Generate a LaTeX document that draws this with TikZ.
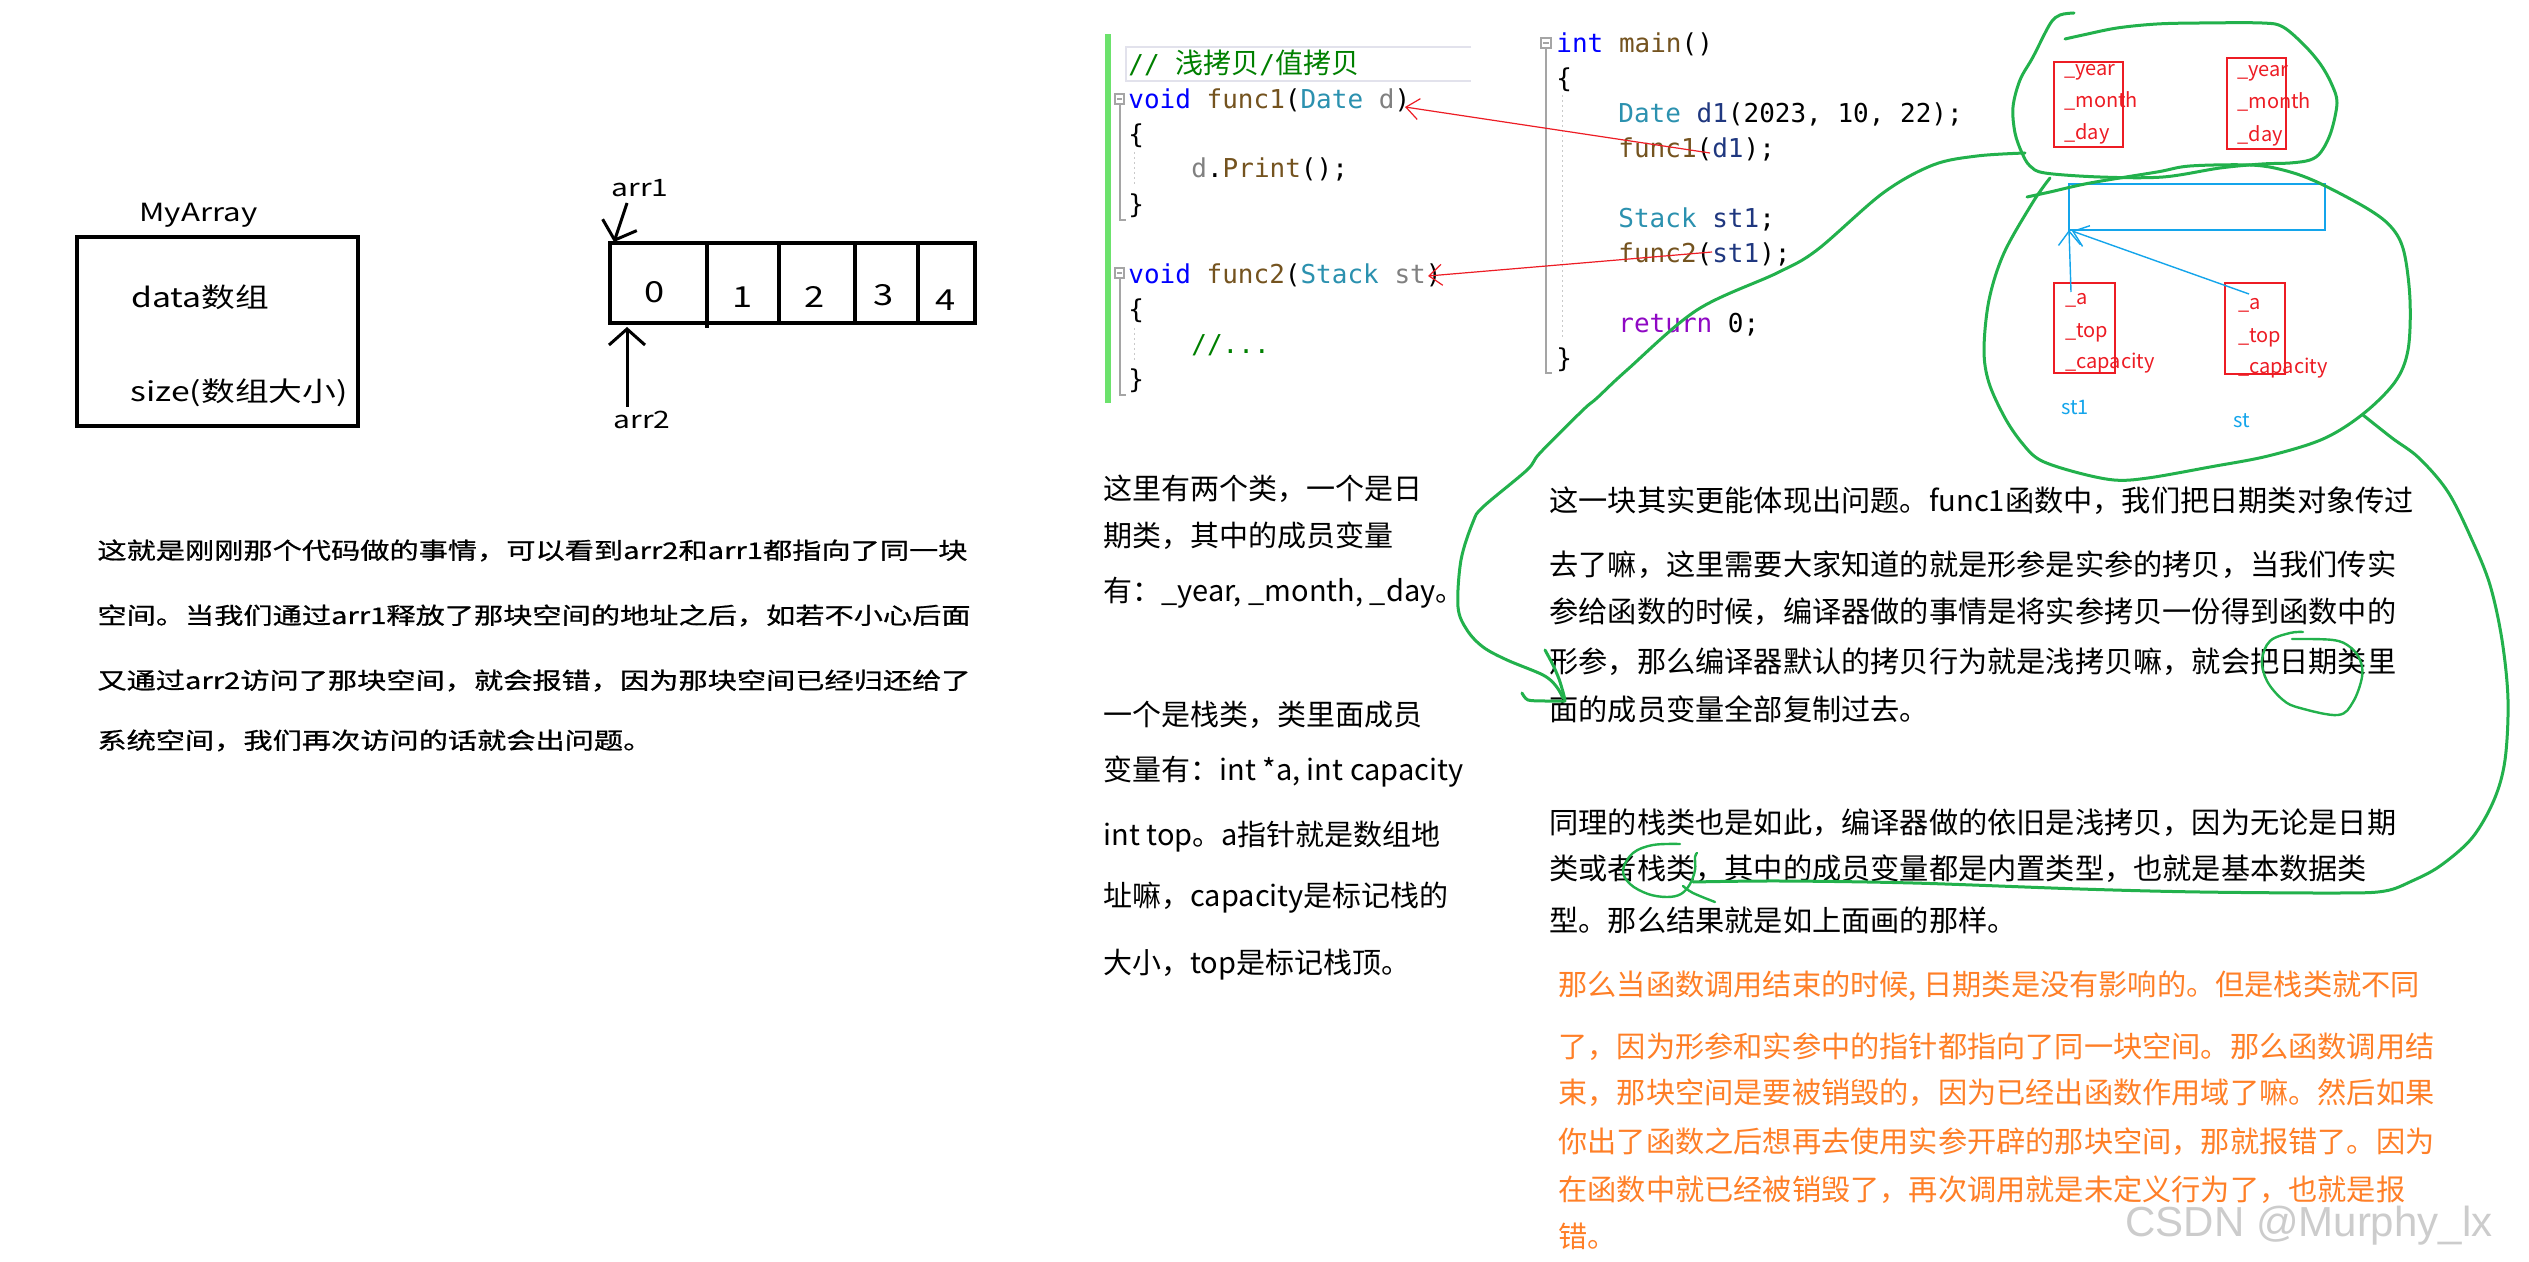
\documentclass[tikz,border=0pt]{standalone}
\usepackage{fontspec}
\setmainfont{Noto Sans CJK SC}
\newfontfamily\cjk{Noto Sans CJK SC}
\newfontfamily\paintfont[FakeStretch=1.25]{Noto Sans CJK SC}
\newfontfamily\paintpara[FakeStretch=1.27,FakeBold=0.8]{Noto Sans CJK SC}
\newfontfamily\codefont{DejaVu Sans Mono}
\newfontfamily\wmfont{Liberation Sans}
\usetikzlibrary{arrows.meta}
\definecolor{ckwc}{RGB}{0,0,255}
\definecolor{cfnc}{RGB}{116,83,31}
\definecolor{ctyc}{RGB}{43,145,175}
\definecolor{cprmc}{RGB}{128,128,128}
\definecolor{clvc}{RGB}{31,55,127}
\definecolor{cctlc}{RGB}{143,8,196}
\definecolor{ccmtc}{RGB}{0,128,0}
\definecolor{pgreen}{RGB}{34,177,76}
\definecolor{pred}{RGB}{237,28,36}
\definecolor{pblue}{RGB}{20,165,235}
\definecolor{porange}{RGB}{255,127,39}
\definecolor{barg}{RGB}{108,226,108}
\definecolor{hlc}{RGB}{226,226,236}
\definecolor{foldc}{RGB}{165,165,165}
\newcommand\ckw[1]{\textcolor{ckwc}{#1}}
\newcommand\cfn[1]{\textcolor{cfnc}{#1}}
\newcommand\cty[1]{\textcolor{ctyc}{#1}}
\newcommand\cprm[1]{\textcolor{cprmc}{#1}}
\newcommand\clv[1]{\textcolor{clvc}{#1}}
\newcommand\cctl[1]{\textcolor{cctlc}{#1}}
\newcommand\ccmt[1]{\textcolor{ccmtc}{#1}}
\tikzset{
  txt/.style={inner sep=0pt, anchor=base west},
  code/.style={txt, font=\codefont\fontsize{13}{13}\selectfont},
  leftpara/.style={txt, font=\paintpara\fontsize{11.5}{12}\selectfont},
  midpara/.style={txt, font=\fontsize{14.5}{15}\selectfont},
  rightpara/.style={txt, font=\fontsize{14.6}{15}\selectfont},
  orangepara/.style={rightpara, text=porange},
  painttxt/.style={inner sep=0pt, font=\paintfont\fontsize{13.5}{14}\selectfont},
  thickbox/.style={line width=2.3pt, draw=black},
  blackarrow/.style={line width=1.5pt, -{Straight Barb[length=8pt,width=18pt]}},
  redarrow/.style={draw=pred, line width=0.6pt, -{Straight Barb[length=6.5pt,width=10.5pt]}},
  bluearrow/.style={draw=pblue, line width=0.7pt, -{Straight Barb[length=7pt,width=11pt]}},
  redbox/.style={draw=pred, line width=0.75pt},
  memtxt/.style={txt, text=pred, font=\fontsize{10}{10}\selectfont},
  gline/.style={draw=pgreen, line width=1.5pt, line cap=round, line join=round},
  fold/.style={draw=foldc, line width=0.6pt},
  guide/.style={draw=foldc!60, line width=0.5pt, dash pattern=on 1pt off 1.5pt},
}
\begin{document}
\begin{tikzpicture}[x=0.5pt, y=-0.5pt]
\fill[white] (0,0) rectangle (2529,1262);
\useasboundingbox (0,0) rectangle (2529,1262);

% ---------- left: MyArray ----------
\node[painttxt, anchor=base west, font=\paintfont\fontsize{12.5}{13}\selectfont] (myarray) at (139,222) {MyArray};
\draw[thickbox] (77,237) rectangle (358,426);
\node[painttxt, anchor=base west] (datat) at (131,308) {data数组};
\node[painttxt, anchor=base west] (sizet) at (130,402) {size(数组大小)};

% ---------- array ----------
\draw[thickbox] (610,243) rectangle (975,323);
\draw[thickbox] (707,243) -- (707,328);
\draw[thickbox] (779,243) -- (779,323);
\draw[thickbox] (855,243) -- (855,323);
\draw[thickbox] (918,243) -- (918,323);
\node[painttxt, font=\paintfont\fontsize{14.5}{14}\selectfont] (d0) at (655,292) {0};
\node[painttxt, font=\paintfont\fontsize{14.5}{14}\selectfont] (d1) at (743,297) {1};
\node[painttxt, font=\paintfont\fontsize{14.5}{14}\selectfont] (d2) at (815,297) {2};
\node[painttxt, font=\paintfont\fontsize{14.5}{14}\selectfont] (d3) at (884,295) {3};
\node[painttxt, font=\paintfont\fontsize{14.5}{14}\selectfont] (d4) at (946,300) {4};
\node[painttxt, font=\paintfont\fontsize{12}{12}\selectfont] (arr1) at (640,188) {arr1};
\node[painttxt, font=\paintfont\fontsize{12}{12}\selectfont] (arr2) at (642,420) {arr2};
\coordinate (a1s) at (627,203);
\coordinate (a1e) at (614,242);
\coordinate (a2s) at (627,407);
\coordinate (a2e) at (627,327);
\draw[blackarrow] (a1s) -- (a1e);
\draw[blackarrow] (a2s) -- (a2e);

% ---------- left paragraph ----------
\node[leftpara] (lp1) at (97,559) {这就是刚刚那个代码做的事情，可以看到arr2和arr1都指向了同一块};
\node[leftpara] (lp2) at (97,624) {空间。当我们通过arr1释放了那块空间的地址之后，如若不小心后面};
\node[leftpara] (lp3) at (97,689) {又通过arr2访问了那块空间，就会报错，因为那块空间已经归还给了};
\node[leftpara] (lp4) at (97,749) {系统空间，我们再次访问的话就会出问题。};

% ---------- code: func1 / func2 ----------
\fill[barg] (1105,34) rectangle (1111,403);
\draw[hlc, line width=1pt] (1471,47) -- (1126,47) -- (1126,81) -- (1471,81);
\node[code] (cm) at (1128,74) {\ccmt{// {\cjk\fontsize{14}{14}\selectfont 浅拷贝}/{\cjk\fontsize{14}{14}\selectfont 值拷贝}}};
\node[code] (f1) at (1128,109) {\ckw{void} \cfn{func1}(\cty{Date} \cprm{d})};
\node[code] (f1o) at (1128,144) {\{};
\node[code] (f1b) at (1191,178) {\cprm{d}.\cfn{Print}();};
\node[code] (f1c) at (1128,214) {\}};
\node[code] (f2) at (1128,284) {\ckw{void} \cfn{func2}(\cty{Stack} \cprm{st})};
\node[code] (f2o) at (1128,319) {\{};
\node[code] (f2b) at (1191,354) {\ccmt{//...}};
\node[code] (f2c) at (1128,389) {\}};
% fold markers
\draw[fold, fill=white] (1115,94) rectangle (1124,104);
\draw[fold] (1117,99) -- (1122,99);
\draw[fold] (1120,104) -- (1120,220) -- (1126,220);
\draw[fold, fill=white] (1115,268) rectangle (1124,278);
\draw[fold] (1117,273) -- (1122,273);
\draw[fold] (1120,278) -- (1120,395) -- (1126,395);
\draw[guide] (1134,152) -- (1134,187);
\draw[guide] (1134,328) -- (1134,362);

% ---------- code: main ----------
\node[code] (m0) at (1556,53) {\ckw{int} \cfn{main}()};
\node[code] (m1) at (1556,88) {\{};
\node[code] (m2) at (1618,123) {\cty{Date} \clv{d1}(2023, 10, 22);};
\node[code] (m3) at (1618,158) {\cfn{func1}(\clv{d1});};
\node[code] (m4) at (1618,228) {\cty{Stack} \clv{st1};};
\node[code] (m5) at (1618,263) {\cfn{func2}(\clv{st1});};
\node[code] (m6) at (1618,333) {\cctl{return} 0;};
\node[code] (m7) at (1556,368) {\}};
\draw[fold, fill=white] (1541,38) rectangle (1551,48);
\draw[fold] (1543,43) -- (1549,43);
\draw[fold] (1546,48) -- (1546,373) -- (1552,373);
\draw[guide] (1562,95) -- (1562,340);

% red arrows
\coordinate (r1s) at (1710,153);
\coordinate (r1e) at (1405,107);
\coordinate (r2s) at (1712,252);
\coordinate (r2e) at (1428,276);
\draw[redarrow] (r1s) -- (r1e);
\draw[redarrow] (r2s) -- (r2e);

% ---------- memory boxes ----------
\draw[redbox] (2054,62) rectangle (2123,147);
\node[memtxt] (y1) at (2064,76) {\_year};
\node[memtxt] (mo1) at (2064,108) {\_month};
\node[memtxt] (dy1) at (2064,140) {\_day};
\draw[redbox] (2227,58) rectangle (2286,149);
\node[memtxt] (y2) at (2237,77) {\_year};
\node[memtxt] (mo2) at (2237,109) {\_month};
\node[memtxt] (dy2) at (2237,142) {\_day};

\draw[draw=pblue, line width=0.7pt] (2069,184) rectangle (2325,230);
\coordinate (bufsw) at (2069,230);
\coordinate (bufsw2) at (2072,231);

\draw[redbox] (2054,283) rectangle (2115,373);
\node[memtxt] (sa1) at (2065,305) {\_a};
\node[memtxt] (st1t) at (2065,338) {\_top};
\node[memtxt] (sc1) at (2065,369) {\_capacity};
\draw[redbox] (2225,283) rectangle (2285,374);
\node[memtxt] (sa2) at (2238,310) {\_a};
\node[memtxt] (st2t) at (2238,343) {\_top};
\node[memtxt] (sc2) at (2238,374) {\_capacity};
\node[memtxt, text=pblue] (st1lab) at (2061,415) {st1};
\node[memtxt, text=pblue] (stlab) at (2233,428) {st};
\coordinate (ap1) at (2071,292);
\coordinate (ap2) at (2249,294);
\draw[bluearrow] (ap1) -- (bufsw);
\draw[bluearrow] (ap2) -- (bufsw2);

% ---------- middle paragraph ----------
\node[midpara] (mp1) at (1103,500) {这里有两个类，一个是日};
\node[midpara] (mp2) at (1103,547) {期类，其中的成员变量};
\node[midpara] (mp3) at (1103,602) {有：\_year, \_month, \_day。};
\node[midpara] (mp4) at (1103,725) {一个是栈类，类里面成员};
\node[midpara] (mp5) at (1103,780) {变量有：int *a, int capacity};
\node[midpara] (mp6) at (1103,845) {int top。a指针就是数组地};
\node[midpara] (mp7) at (1103,906) {址嘛，capacity是标记栈的};
\node[midpara] (mp8) at (1103,973) {大小，top是标记栈顶。};

% ---------- right paragraph ----------
\node[rightpara] (rp1) at (1549,512) {这一块其实更能体现出问题。func1函数中，我们把日期类对象传过};
\node[rightpara] (rp2) at (1549,575) {去了嘛，这里需要大家知道的就是形参是实参的拷贝，当我们传实};
\node[rightpara] (rp3) at (1549,623) {参给函数的时候，编译器做的事情是将实参拷贝一份得到函数中的};
\node[rightpara] (rp4) at (1549,672) {形参，那么编译器默认的拷贝行为就是浅拷贝嘛，就会把日期类里};
\node[rightpara] (rp5) at (1549,720) {面的成员变量全部复制过去。};
\node[rightpara] (rp6) at (1549,833) {同理的栈类也是如此，编译器做的依旧是浅拷贝，因为无论是日期};
\node[rightpara] (rp7) at (1549,879) {类或者栈类，其中的成员变量都是内置类型，也就是基本数据类};
\node[rightpara] (rp8) at (1549,931) {型。那么结果就是如上面画的那样。};

% ---------- orange paragraph ----------
\node[orangepara] (op1) at (1558,995) {那么当函数调用结束的时候, 日期类是没有影响的。但是栈类就不同};
\node[orangepara] (op2) at (1558,1057) {了，因为形参和实参中的指针都指向了同一块空间。那么函数调用结};
\node[orangepara] (op3) at (1558,1103) {束，那块空间是要被销毁的，因为已经出函数作用域了嘛。然后如果};
\node[orangepara] (op4) at (1558,1152) {你出了函数之后想再去使用实参开辟的那块空间，那就报错了。因为};
\node[orangepara] (op5) at (1558,1200) {在函数中就已经被销毁了，再次调用就是未定义行为了，也就是报};
\node[orangepara] (op6) at (1558,1247) {错。};

% ---------- green hand-drawn strokes ----------
% upper blob (date objects)
\draw[gline] plot[smooth, tension=0.55] coordinates {(2074,13) (2060,15) (2050,24) (2033,57) (2020,80) (2013,107) (2015,133) (2022,153) (2030,166) (2045,173) (2100,177) (2163,177) (2220,168) (2262,164) (2290,163) (2310,160) (2321,152) (2331,132) (2337,103) (2332,85) (2321,65) (2305,46) (2283,27) (2262,23) (2200,23) (2157,24) (2117,28) (2083,35) (2065,39)};
% lower blob (stack objects)
\draw[gline] plot[smooth, tension=0.55] coordinates {(2050,178) (2033,202) (2004,253) (1989,300) (1984,350) (1989,383) (2005,418) (2022,443) (2040,460) (2075,472) (2114,480) (2148,478) (2210,467) (2268,456) (2323,439) (2363,414) (2395,382) (2408,350) (2410,300) (2404,252) (2392,228) (2368,209) (2317,182) (2283,170) (2250,165) (2190,166) (2157,172) (2090,183) (2050,192) (2027,197)};
% tail and loop round the text
\draw[gline] plot[smooth, tension=0.55] coordinates {(2363,415) (2392,438) (2419,458) (2448,492) (2472,540) (2490,585) (2502,640) (2508,700) (2505,760) (2494,800) (2472,838) (2440,866) (2412,881) (2385,891) (2340,893) (2200,892) (2080,889) (1913,883) (1780,881) (1693,882)};
% long stroke from the date blob down to the hook
\draw[gline] plot[smooth, tension=0.55] coordinates {(2025,153) (1977,156) (1933,165) (1883,193) (1817,250) (1777,273) (1697,310) (1627,370) (1597,398) (1583,410) (1540,453) (1527,470) (1483,507) (1473,522) (1461,560) (1458,607) (1467,630) (1483,647) (1507,660) (1543,675) (1556,686) (1563,698)};
\draw[gline] plot[smooth, tension=0.5] coordinates {(1545,650) (1553,665) (1559,679) (1563,692) (1565,700)};
\draw[gline] plot[smooth, tension=0.5] coordinates {(1522,693) (1528,700) (1545,701) (1565,701)};
% circle round 日期类
\draw[gline, line width=1.2pt] plot[smooth, tension=0.6] coordinates {(2303,632) (2290,633) (2270,641) (2262,660) (2267,681) (2283,700) (2300,708) (2338,715) (2353,702) (2362,677) (2360,660) (2350,647) (2333,640) (2292,639)};
% oval round 栈类
\draw[gline, line width=1.2pt] plot[smooth, tension=0.6] coordinates {(1680,844) (1653,845) (1633,853) (1623,870) (1630,884) (1648,894) (1667,897) (1681,894) (1690,884) (1695,870) (1695,857) (1697,853)};
\draw[gline, line width=1.2pt] plot[smooth, tension=0.6] coordinates {(1683,886) (1693,893) (1715,902)};

% watermark
\node[txt, font=\wmfont\fontsize{21}{21}\selectfont, text=black!20] (wm) at (2125,1236) {CSDN @Murphy\_lx};
\end{tikzpicture}
\end{document}
